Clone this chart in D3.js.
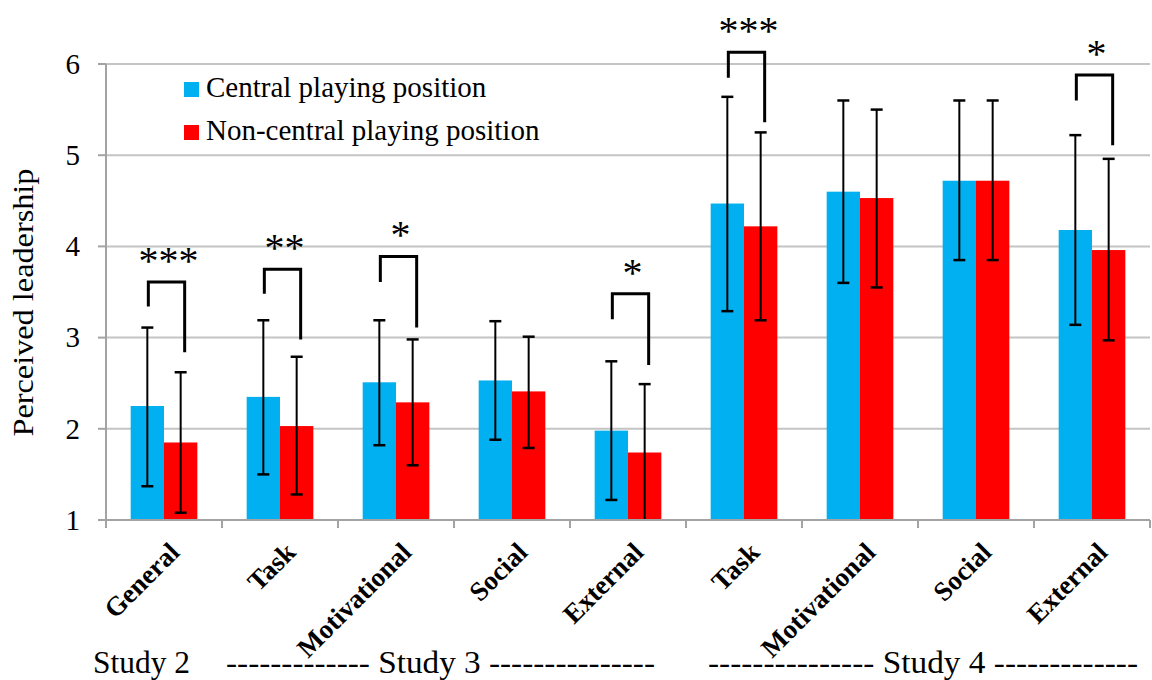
<!DOCTYPE html>
<html>
<head>
<meta charset="utf-8">
<script src="https://cdn.jsdelivr.net/npm/d3@7"></script>
<style>
  html, body { margin: 0; padding: 0; background: #fff; }
  svg { display: block; }
</style>
</head>
<body>
<svg id="chart" width="1152" height="680"></svg>
<script>
// ---- data ----
const categories = ["General", "Task", "Motivational", "Social", "External", "Task", "Motivational", "Social", "External"];
const seriesNames = ["Central playing position", "Non-central playing position"];
const central      = [2.25, 2.35, 2.51, 2.53, 1.98, 4.47, 4.60, 4.72, 4.18];
const centralHigh  = [3.11, 3.19, 3.19, 3.18, 2.74, 5.64, 5.60, 5.60, 5.22];
const centralLow   = [1.37, 1.50, 1.82, 1.88, 1.22, 3.29, 3.60, 3.85, 3.14];
const nonCentral     = [1.85, 2.03, 2.29, 2.41, 1.74, 4.22, 4.53, 4.72, 3.96];
const nonCentralHigh = [2.62, 2.79, 2.98, 3.01, 2.49, 5.25, 5.50, 5.60, 4.96];
const nonCentralLow  = [1.08, 1.28, 1.60, 1.79, 0.98, 3.19, 3.55, 3.85, 2.97];
const yTicks = [1, 2, 3, 4, 5, 6];
const yTitle = "Perceived leadership";
// significance brackets (category index, label, values in leadership units)
const sigIndex = [0, 1, 2, 4, 5, 8];
const sigLabels = ["***", "**", "*", "*", "***", "*"];
const sigTop = [3.61, 3.75, 3.89, 3.48, 6.13, 5.88];
const sigLeftEnd = [3.34, 3.48, 3.61, 3.20, 5.85, 5.60];
const sigRightEnd = [2.84, 2.98, 3.11, 2.70, 5.36, 5.11];
const studyLabels = ["Study 2", "------------- Study 3 ---------------", "--------------- Study 4 -------------"];

// ---- layout ----
const svg = d3.select("#chart");
const plotL = 106, plotR = 1150, plotT = 64, plotB = 520;
const colors = ["#00B0F0", "#FF0000"];

const x = d3.scaleBand().domain(d3.range(categories.length)).range([plotL, plotR]).padding(0);
const xs = d3.scaleBand().domain([0, 1]).range([0, x.bandwidth()]).paddingInner(0).paddingOuter(0.74);
const y = d3.scaleLinear().domain([1, 6]).range([plotB, plotT]);
const yMin = y.domain()[0];

// gridlines
svg.append("g").selectAll("line").data(yTicks.filter(t => t > 1)).join("line")
  .attr("x1", plotL).attr("x2", plotR)
  .attr("y1", d => y(d)).attr("y2", d => y(d))
  .attr("stroke", "#C4C4C4").attr("stroke-width", 2);

// bars
const rows = categories.map((c, i) => ({
  i,
  vals: [
    { s: 0, v: central[i], hi: centralHigh[i], lo: centralLow[i] },
    { s: 1, v: nonCentral[i], hi: nonCentralHigh[i], lo: nonCentralLow[i] }
  ]
}));

const g = svg.append("g").selectAll("g").data(rows).join("g")
  .attr("transform", d => `translate(${x(d.i)},0)`);

g.selectAll("rect").data(d => d.vals).join("rect")
  .attr("x", d => xs(d.s)).attr("width", xs.bandwidth())
  .attr("y", d => y(d.v)).attr("height", d => y(yMin) - y(d.v))
  .attr("fill", d => colors[d.s]);

// error bars
const eb = g.selectAll("g.eb").data(d => d.vals).join("g").attr("class", "eb");
eb.append("line")
  .attr("x1", d => xs(d.s) + xs.bandwidth() / 2).attr("x2", d => xs(d.s) + xs.bandwidth() / 2)
  .attr("y1", d => y(d.hi)).attr("y2", d => y(Math.max(d.lo, yMin)))
  .attr("stroke", "#000").attr("stroke-width", 2);
eb.append("line")
  .attr("x1", d => xs(d.s) + xs.bandwidth() / 2 - 6).attr("x2", d => xs(d.s) + xs.bandwidth() / 2 + 6)
  .attr("y1", d => y(d.hi)).attr("y2", d => y(d.hi))
  .attr("stroke", "#000").attr("stroke-width", 2.5);
eb.filter(d => d.lo >= yMin).append("line")
  .attr("x1", d => xs(d.s) + xs.bandwidth() / 2 - 6).attr("x2", d => xs(d.s) + xs.bandwidth() / 2 + 6)
  .attr("y1", d => y(d.lo)).attr("y2", d => y(d.lo))
  .attr("stroke", "#000").attr("stroke-width", 2.5);

// axes
const axisColor = "#A3A3A3";
svg.append("line").attr("x1", plotL).attr("x2", plotL).attr("y1", plotT).attr("y2", plotB + 1)
  .attr("stroke", axisColor).attr("stroke-width", 2);
svg.append("line").attr("x1", plotL).attr("x2", plotR).attr("y1", plotB).attr("y2", plotB)
  .attr("stroke", axisColor).attr("stroke-width", 2);
// y ticks
svg.append("g").selectAll("line").data(yTicks).join("line")
  .attr("x1", plotL - 8).attr("x2", plotL).attr("y1", d => y(d)).attr("y2", d => y(d))
  .attr("stroke", axisColor).attr("stroke-width", 2);
svg.append("g").selectAll("text").data(yTicks).join("text")
  .attr("x", plotL - 26).attr("y", d => y(d)).attr("dy", "0.34em")
  .attr("text-anchor", "end").attr("font-size", 29).text(d => d);
// x ticks at band boundaries
const bounds = d3.range(categories.length + 1).map(i => i < categories.length ? x(i) : x(categories.length - 1) + x.bandwidth());
svg.append("g").selectAll("line").data(bounds).join("line")
  .attr("x1", d => d).attr("x2", d => d).attr("y1", plotB).attr("y2", plotB + 8)
  .attr("stroke", axisColor).attr("stroke-width", 2);
// category labels
svg.append("g").selectAll("text").data(categories).join("text")
  .attr("transform", (d, i) => `translate(${x(i) + x.bandwidth() / 2 + 17},${plotB + 34}) rotate(-45)`)
  .attr("text-anchor", "end").attr("font-size", 27).attr("font-weight", "bold").text(d => d);

// y title
svg.append("text")
  .attr("transform", `translate(33,${(168 + 437) / 2}) rotate(-90)`)
  .attr("text-anchor", "middle").attr("font-size", 29)
  .attr("textLength", 268).attr("lengthAdjust", "spacingAndGlyphs")
  .text(yTitle);

// legend
const leg = svg.append("g").selectAll("g").data(seriesNames).join("g")
  .attr("transform", (d, i) => `translate(184,${82 + i * 43})`);
leg.append("rect").attr("width", 15).attr("height", 15).attr("fill", (d, i) => colors[i]);
leg.append("text").attr("x", 22).attr("y", 15).attr("font-size", 29).text(d => d);

// significance brackets
const sig = svg.append("g").selectAll("g").data(sigIndex.map((ci, k) => ({ ci, k }))).join("g");
const bx = d => [x(d.ci) + xs(0) + xs.bandwidth() / 2 + 1, x(d.ci) + xs(1) + xs.bandwidth() / 2 + 4];
sig.append("path")
  .attr("d", d => {
    const [xl, xr] = bx(d);
    return `M${xl},${y(sigLeftEnd[d.k])}V${y(sigTop[d.k])}H${xr}V${y(sigRightEnd[d.k])}`;
  })
  .attr("fill", "none").attr("stroke", "#000").attr("stroke-width", 3);
sig.append("text")
  .attr("x", d => { const [xl, xr] = bx(d); return (xl + xr) / 2 + 2; })
  .attr("y", d => y(sigTop[d.k]) - 8)
  .attr("text-anchor", "middle").attr("font-size", 40)
  .text(d => sigLabels[d.k]);

// study labels
const studyX = [93, 226, 708], studyW = [97, 429, 430];
svg.append("g").selectAll("text").data(studyLabels).join("text")
  .attr("x", (d, i) => studyX[i]).attr("y", 673)
  .attr("font-size", 31)
  .attr("textLength", (d, i) => studyW[i]).attr("lengthAdjust", "spacingAndGlyphs")
  .text(d => d);

// font for all text
svg.selectAll("text").style("font-family", '"Liberation Serif"').style("fill", "#000");
</script>
</body>
</html>
